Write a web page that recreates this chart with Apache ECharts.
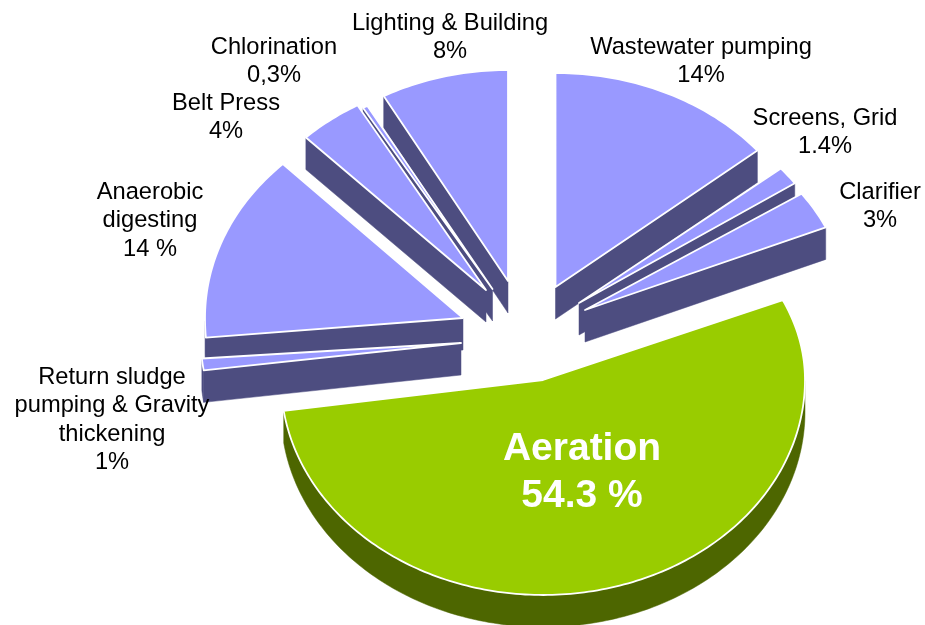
<!DOCTYPE html>
<html>
<head>
<meta charset="utf-8">
<style>html,body{margin:0;padding:0;background:#fff}#chart{width:925px;height:625px}</style>
<script src="https://cdn.jsdelivr.net/npm/echarts@6/dist/echarts.min.js"></script>
</head>
<body>
<div id="chart"></div>
<script>
// ---- chart values ----
const categories = ['Wastewater pumping','Screens, Grid','Clarifier','Aeration','Return sludge\npumping & Gravity\nthickening','Anaerobic\ndigesting','Belt Press','Chlorination','Lighting & Building'];
const shares = [14, 1.4, 3, 54.3, 1, 14, 4, 0.3, 8];
const shareLabels = ['14%','1.4%','3%','54.3 %','1%','14 %','4%','0,3%','8%'];

// ---- layout and style, separate from the data ----
const apexes = [[555.5,287],[579,303],[585,310],[543,380],[461,343],[463,318],[486,290],[492.5,289],[508,281]];
// horizontal radius, radius above the apex, radius below the apex
const radii = [[262,214,214],[262,211,211],[263,205,205],[262,198,215],[260,215,190],[258,215,240],[258,213,213],[260,209,209],[258,211,211]];
const drawOrder = [0,1,2,3,8,7,6,5,4];
const labelAnchors = [[701,47],[825,118],[880,192],[582,449],[112,377],[150,192],[226,103],[274,47],[450,23]];
const RX = 262, DEPTH = 32, LINE = 28.6;
const topBlue = '#9999FF', sideBlue = '#4D4D80', topGreen = '#99CC00', sideGreen = '#4D6600';
const total = shares.reduce((a, b) => a + b, 0);

function renderSlice(params, api) {
  const i = params.dataIndex;
  const value = api.value(0);
  let before = 0;
  for (let k = 0; k < i; k++) before += shares[k];
  const a0 = before / total * 360, a1 = (before + value) / total * 360;
  const [cx, cy] = apexes[i];
  const [rx, ryUp, ryDown] = radii[i];
  const big = i === 3;
  const order = drawOrder.indexOf(i) * 2 + 1;
  const pt = (deg, dz) => {
    const r = deg * Math.PI / 180, c = Math.cos(r);
    return [cx + rx * Math.sin(r), cy - (c > 0 ? ryUp : ryDown) * c + (dz || 0)];
  };
  const arc = [];
  const steps = Math.max(2, Math.ceil(a1 - a0));
  for (let s = 0; s <= steps; s++) arc.push(a0 + (a1 - a0) * s / steps);

  const top = big ? topGreen : topBlue, side = big ? sideGreen : sideBlue;
  const children = [];
  const poly = (points, fill, stroke, lw, z2) => children.push({
    type: 'polygon', z2, shape: { points },
    style: { fill, stroke: stroke || fill, lineWidth: lw === undefined ? 0.5 : lw, lineJoin: 'round' }
  });
  // outer wall
  const a2 = Math.max(a0, 90), a3 = Math.min(a1, 270);
  if (a3 > a2) {
    const wall = [];
    const vis = arc.filter(a => a >= a2 && a <= a3);
    vis.forEach(a => wall.push(pt(a, 0)));
    vis.slice().reverse().forEach(a => wall.push(pt(a, DEPTH)));
    poly(wall, side, side, 0.5, order);
  }
  // radial wall on the side that faces the viewer
  const edge = a1 < 180 ? a1 : (a0 > 180 ? a0 : null);
  if (edge !== null) {
    poly([pt(edge, 0), [cx, cy], [cx, cy + DEPTH], pt(edge, DEPTH)], side, side, 0.5, order);
  }
  // top face
  const face = [[cx, cy]];
  arc.forEach(a => face.push(pt(a, 0)));
  poly(face, top, '#ffffff', 1.8, order + 0.5);

  // labels
  const [lx, ly] = labelAnchors[i];
  const lines = categories[i].split('\n').concat(shareLabels[i]);
  lines.forEach((txt, n) => children.push({
    type: 'text', z2: 100,
    style: {
      x: lx, y: ly + n * (big ? 47 : LINE), text: txt, align: 'center', verticalAlign: 'middle',
      fill: big ? '#ffffff' : '#000000',
      font: (big ? 'bold 39px' : '23.7px') + ' "Liberation Sans", Arial, sans-serif'
    }
  }));
  return { type: 'group', children };
}

const chart = echarts.init(document.getElementById('chart'), null, { renderer: 'canvas' });
chart.setOption({
  animation: false,
  backgroundColor: '#ffffff',
  series: [{
    type: 'custom',
    coordinateSystem: 'none',
    silent: true,
    renderItem: renderSlice,
    data: shares.map((v, i) => ({ name: categories[i], value: [v, i] }))
  }]
});
</script>
</body>
</html>
